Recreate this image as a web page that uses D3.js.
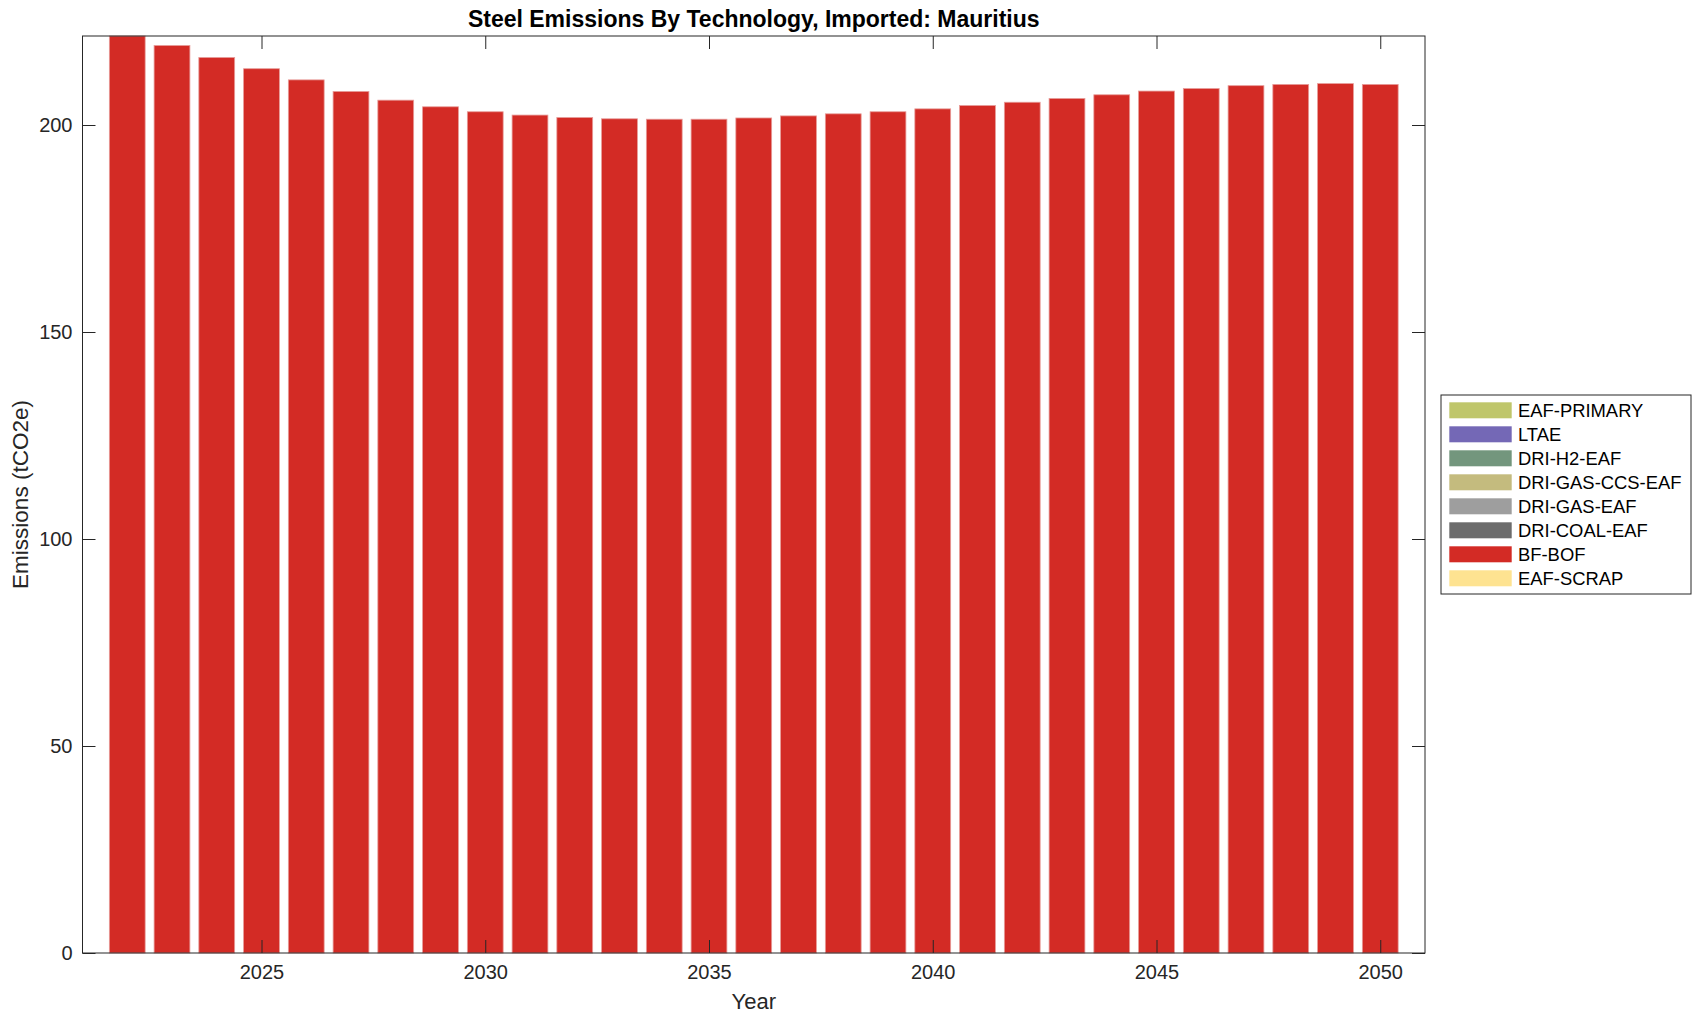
<!DOCTYPE html>
<html>
<head>
    <meta charset="utf-8">
    <title>Steel Emissions By Technology</title>
    <style type="text/css">
        body {
            margin: 0;
            padding: 0;
            background: #fff;
            font-family: 'Liberation Sans', Arial, Helvetica, sans-serif;
        }
        .axis path, .axis line {
            stroke: #262626;
        }
        .axis text {
            fill: #262626;
            font-size: 20px;
        }
        .bar {
            stroke: #e79b98;
            stroke-width: 0.8;
        }
    </style>
</head>
<body>
<div id="chart"></div>

<script src="https://cdn.jsdelivr.net/npm/d3@7"></script>
<script>

// data
var years = d3.range(2022, 2051);

var technologies = ["EAF-PRIMARY", "LTAE", "DRI-H2-EAF", "DRI-GAS-CCS-EAF",
                    "DRI-GAS-EAF", "DRI-COAL-EAF", "BF-BOF", "EAF-SCRAP"];

var techColors = ["#bfc66b", "#7468b6", "#73967d", "#c4bb7e",
                  "#9e9e9e", "#6c6c6c", "#d32b25", "#fee391"];

var bfBof = [221.5, 219.2, 216.3, 213.6, 210.9, 208.1, 206.0, 204.4, 203.2, 202.4,
             201.8, 201.5, 201.4, 201.4, 201.7, 202.2, 202.7, 203.2, 203.9, 204.7,
             205.5, 206.4, 207.3, 208.2, 208.8, 209.5, 209.8, 210.0, 209.8];

// every other technology is zero for this country
var zeros = years.map(function() { return 0; });

var yTicks = [0, 50, 100, 150, 200];
var xTicks = [2025, 2030, 2035, 2040, 2045, 2050];

var rows = years.map(function(y, i) {
    var r = { year: y };
    technologies.forEach(function(t) { r[t] = zeros[i]; });
    r["BF-BOF"] = bfBof[i];
    return r;
});

var width = 1702,
    height = 1021;

var plot = { left: 82.5, right: 1425, top: 36, bottom: 953 };

var svg = d3.select("#chart").append("svg")
    .attr("width", width)
    .attr("height", height);

var x = d3.scaleLinear()
    .domain([2021, 2051])
    .range([plot.left, plot.right]);

var stack = d3.stack()
    .keys(technologies.slice().reverse());

var series = stack(rows);

var yMax = d3.max(series[series.length - 1], function(d) { return d[1]; });

var y = d3.scaleLinear()
    .domain([0, yMax])
    .range([plot.bottom, plot.top]);

var barW = (x(2022) - x(2021)) * 0.8;

var color = d3.scaleOrdinal()
    .domain(technologies)
    .range(techColors);

svg.append("g")
    .selectAll("g")
    .data(series)
    .enter().append("g")
        .attr("fill", function(s) { return color(s.key); })
    .selectAll("rect")
    .data(function(s) { return s.filter(function(d) { return d[1] - d[0] > 0; }); })
    .enter().append("rect")
        .attr("class", "bar")
        .attr("x", function(d) { return x(d.data.year) - barW / 2; })
        .attr("width", barW)
        .attr("y", function(d) { return y(d[1]); })
        .attr("height", function(d) { return y(d[0]) - y(d[1]); });

// axes, ticks on all four sides pointing inward
var tickLen = 13;

svg.append("g")
    .attr("class", "axis")
    .attr("transform", "translate(0," + plot.bottom + ")")
    .call(d3.axisBottom(x).tickValues(xTicks).tickFormat(d3.format("d"))
        .tickSizeInner(-tickLen).tickSizeOuter(0).tickPadding(12));

svg.append("g")
    .attr("class", "axis")
    .attr("transform", "translate(0," + plot.top + ")")
    .call(d3.axisTop(x).tickValues(xTicks).tickFormat("")
        .tickSizeInner(-tickLen).tickSizeOuter(0));

svg.append("g")
    .attr("class", "axis")
    .attr("transform", "translate(" + plot.left + ",0)")
    .call(d3.axisLeft(y).tickValues(yTicks)
        .tickSizeInner(-tickLen).tickSizeOuter(0).tickPadding(10));

svg.append("g")
    .attr("class", "axis")
    .attr("transform", "translate(" + plot.right + ",0)")
    .call(d3.axisRight(y).tickValues(yTicks).tickFormat("")
        .tickSizeInner(-tickLen).tickSizeOuter(0));

svg.selectAll(".axis .domain").remove();

svg.append("rect")
    .attr("x", plot.left)
    .attr("y", plot.top)
    .attr("width", plot.right - plot.left)
    .attr("height", plot.bottom - plot.top)
    .attr("fill", "none")
    .attr("stroke", "#262626")
    .attr("stroke-width", 1);

// title and labels
svg.append("text")
    .attr("x", (plot.left + plot.right) / 2)
    .attr("y", 27)
    .attr("text-anchor", "middle")
    .style("font-size", "23px")
    .style("font-weight", "bold")
    .style("fill", "#000")
    .text("Steel Emissions By Technology, Imported: Mauritius");

svg.append("text")
    .attr("x", (plot.left + plot.right) / 2)
    .attr("y", 1009)
    .attr("text-anchor", "middle")
    .style("font-size", "22px")
    .style("fill", "#262626")
    .text("Year");

svg.append("text")
    .attr("transform", "translate(28," + ((plot.top + plot.bottom) / 2) + ") rotate(-90)")
    .attr("text-anchor", "middle")
    .style("font-size", "22.5px")
    .style("fill", "#262626")
    .text("Emissions (tCO2e)");

// legend
var legend = svg.append("g")
    .attr("transform", "translate(1441,395)");

legend.append("rect")
    .attr("width", 250)
    .attr("height", 199)
    .attr("fill", "#fff")
    .attr("stroke", "#262626")
    .attr("stroke-width", 1);

var item = legend.selectAll(".item")
    .data(technologies)
    .enter().append("g")
        .attr("class", "item")
        .attr("transform", function(d, i) { return "translate(0," + (15.3 + i * 24) + ")"; });

item.append("rect")
    .attr("x", 8.3)
    .attr("y", -8)
    .attr("width", 62.4)
    .attr("height", 16)
    .attr("fill", function(d) { return color(d); });

item.append("text")
    .attr("x", 77)
    .attr("dy", "0.36em")
    .style("font-size", "18.4px")
    .style("fill", "#000")
    .text(function(d) { return d; });

</script>
</body>
</html>
